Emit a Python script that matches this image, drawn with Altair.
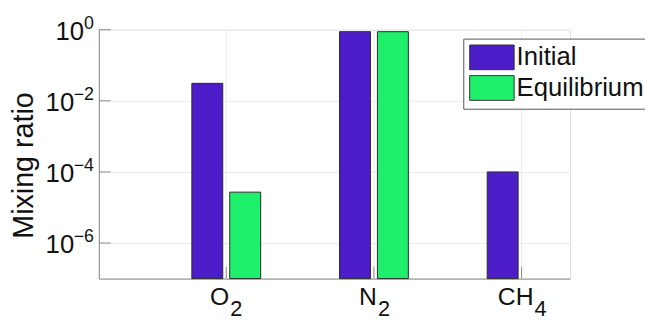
import altair as alt
import pandas as pd

# ---- data ----
species = ["O2", "N2", "CH4"]
formula_main = ["O", "N", "CH"]
formula_sub = ["2", "2", "4"]
series_names = ["Initial", "Equilibrium"]
initial = [3.1e-2, 0.88, 1.0e-4]
equilibrium = [2.7e-5, 0.88, None]  # CH4 equilibrium lies below the axis range
bar_colors = ["#4B1CC8", "#1EF06B"]
y_domain = [1e-7, 1.0]
ytick_values = [1e-6, 1e-4, 1e-2, 1.0]
ytick_exponents = ["\u22126", "\u22124", "\u22122", "0"]
y_title = "Mixing ratio"

FONT = "Liberation Sans, Arial, Helvetica, sans-serif"
AXIS_GRAY = "#8a8a8a"
GRID_GRAY = "#ebebeb"

rows = []
for s, a, b in zip(species, initial, equilibrium):
    rows.append({"species": s, "series": "Initial", "value": a})
    if b is not None:
        rows.append({"species": s, "series": "Equilibrium", "value": b})
bars_df = pd.DataFrame(rows)
labels_df = pd.DataFrame({"species": species, "main": formula_main, "sub": formula_sub})
yticks_df = pd.DataFrame({"value": ytick_values, "exp": ytick_exponents})

W, H = 477, 252

xscale = alt.Scale(domain=species, paddingInner=0.5, paddingOuter=0.345, align=0.888)
yscale = alt.Scale(type="log", domain=y_domain, nice=False)

x_enc = alt.X("species:N", scale=xscale,
              axis=alt.Axis(labels=False, ticks=False, grid=False, title=None,
                            domainColor=AXIS_GRAY, domainWidth=1))
y_enc = alt.Y("value:Q", scale=yscale, stack=None,
              axis=alt.Axis(values=ytick_values, labels=False, ticks=False, grid=True,
                            gridColor=GRID_GRAY, gridWidth=1,
                            domainColor=AXIS_GRAY, domainWidth=1,
                            title=y_title, titleFont=FONT, titleFontSize=29,
                            titleFontWeight="normal", titleColor="#111111",
                            titleAngle=270, titleAlign="center", titleBaseline="alphabetic",
                            titleX=-67, titleY=137))

vgrid = alt.Chart(labels_df).mark_rule(color=GRID_GRAY, strokeWidth=1).encode(
    x=x_enc, y=alt.value(0), y2=alt.value(H))

bars = alt.Chart(bars_df).mark_bar(stroke="#2a2a2a", strokeWidth=1).encode(
    x=x_enc,
    xOffset=alt.XOffset("series:N", scale=alt.Scale(domain=series_names,
                                                    paddingInner=0.184, paddingOuter=0.066)),
    y=y_enc,
    y2=alt.value(H),
    color=alt.Color("series:N",
                    scale=alt.Scale(domain=series_names, range=bar_colors),
                    legend=alt.Legend(title=None, orient="none", legendX=369, legendY=9,
                                      symbolType="M-1,-1L2.6,-1L2.6,1L-1,1Z",
                                      symbolSize=625, symbolStrokeColor="#333333",
                                      symbolStrokeWidth=1, symbolOpacity=1,
                                      labelFont=FONT, labelFontSize=26, labelColor="#111111",
                                      labelOffset=22, strokeColor="#555555",
                                      fillColor="white", padding=6, rowPadding=1)),
)

yticks = alt.Chart(yticks_df).mark_rule(color=AXIS_GRAY, strokeWidth=1).encode(
    y=y_enc, x=alt.value(0), x2=alt.value(12))
xticks = alt.Chart(labels_df).mark_rule(color=AXIS_GRAY, strokeWidth=1).encode(
    x=x_enc, y=alt.value(H - 12), y2=alt.value(H))

ten_a = alt.Chart(yticks_df).transform_filter("datum.exp == '0'").mark_text(
    text="10", align="right", baseline="alphabetic", font=FONT, fontSize=26,
    dy=10, color="#111111").encode(y=y_enc, x=alt.value(-15))
ten_b = alt.Chart(yticks_df).transform_filter("datum.exp != '0'").mark_text(
    text="10", align="right", baseline="alphabetic", font=FONT, fontSize=26,
    dy=10, color="#111111").encode(y=y_enc, x=alt.value(-25))
exps = alt.Chart(yticks_df).mark_text(
    align="right", baseline="alphabetic", font=FONT, fontSize=18, dy=-1,
    color="#111111").encode(y=y_enc, x=alt.value(-5), text="exp:N")


def xlabel_layers(filter_expr, shift):
    main = alt.Chart(labels_df).transform_filter(filter_expr).mark_text(
        align="right", baseline="alphabetic", font=FONT, fontSize=25, dx=shift,
        color="#111111").encode(x=x_enc, y=alt.value(H + 27), text="main:N")
    sub = alt.Chart(labels_df).transform_filter(filter_expr).mark_text(
        align="left", baseline="alphabetic", font=FONT, fontSize=22, dx=shift + 1,
        color="#111111").encode(x=x_enc, y=alt.value(H + 38), text="sub:N")
    return [main, sub]


xl = xlabel_layers("datum.main != 'CH'", 3) + xlabel_layers("datum.main == 'CH'", 12)

chart = alt.layer(vgrid, bars, yticks, xticks, ten_a, ten_b, exps, *xl).properties(
    width=W, height=H,
    autosize=alt.AutoSizeParams(type="none"),
    padding={"left": 92, "top": 20, "right": 76, "bottom": 44},
).configure_view(stroke=None).configure(background="white")

chart.save("out.html", embed_options={"renderer": "svg", "actions": False})
